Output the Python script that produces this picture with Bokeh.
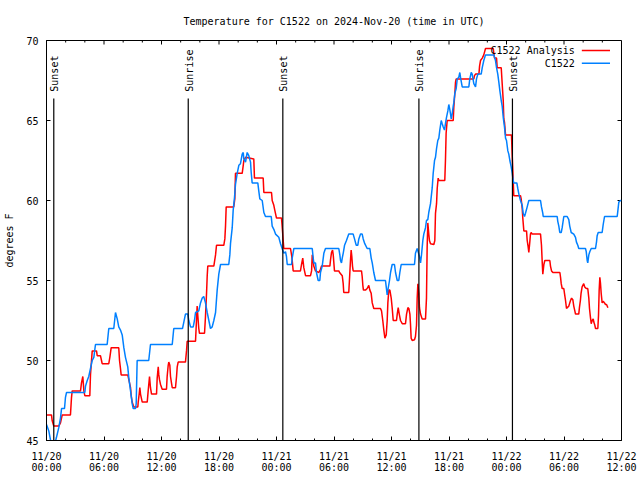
import math
from bokeh.plotting import figure
from bokeh.models import Range1d, FixedTicker
from bokeh.embed import file_html
from bokeh.resources import INLINE
from bokeh.core.properties import value

# ---- data (hours after 2024-11-20 00:00 UTC, degrees F) ----
analysis_hours = [
    0.00, 0.52, 0.59, 0.76, 1.28, 1.46, 1.64, 2.50, 2.61, 2.68, 3.55, 3.65, 3.79, 3.90, 4.00, 4.52,
    4.59, 4.77, 5.22, 5.29, 5.63, 5.74, 5.81, 6.50, 6.61, 6.75, 7.54, 7.62, 7.72, 7.79, 8.48, 8.59,
    8.77, 8.84, 8.94, 9.11, 9.53, 9.57, 9.67, 9.74, 9.81, 9.99, 10.51, 10.61, 10.75, 10.85, 10.96, 11.48,
    11.55, 11.66, 11.72, 11.79, 11.90, 12.07, 12.52, 12.59, 12.70, 12.76, 12.87, 12.94, 13.04, 13.12, 13.46, 13.57,
    13.64, 13.74, 14.50, 14.61, 14.68, 15.55, 15.65, 15.72, 15.79, 15.89, 15.96, 16.49, 16.59, 16.70, 16.77, 16.83,
    17.46, 17.64, 17.74, 18.50, 18.61, 18.68, 18.75, 19.54, 19.65, 19.72, 20.42, 20.53, 20.59, 20.77, 21.63, 21.70,
    22.61, 22.68, 23.48, 23.55, 23.72, 23.82, 24.00, 24.52, 24.59, 24.70, 24.76, 25.46, 25.57, 25.64, 25.74, 26.50,
    26.61, 26.74, 26.85, 27.03, 27.55, 27.66, 27.73, 27.83, 27.89, 28.07, 28.42, 28.59, 28.70, 29.57, 29.64, 29.74,
    29.85, 29.92, 30.05, 30.50, 30.58, 30.86, 30.96, 31.02, 31.54, 31.61, 31.72, 31.79, 31.86, 31.93, 32.00, 32.87,
    32.94, 33.01, 33.07, 33.28, 33.46, 33.63, 33.74, 33.88, 33.99, 34.15, 34.85, 34.96, 35.09, 35.20, 35.31, 35.45,
    35.55, 35.62, 35.72, 35.83, 35.97, 36.07, 36.18, 36.52, 36.60, 36.70, 36.81, 36.94, 37.12, 37.46, 37.57, 37.71,
    37.81, 37.92, 37.98, 38.05, 38.16, 38.40, 38.50, 38.61, 38.68, 38.75, 38.85, 38.92, 39.03, 39.20, 39.55, 39.65,
    39.72, 39.79, 39.89, 39.96, 40.07, 40.42, 40.52, 40.59, 40.70, 40.77, 40.87, 40.94, 41.56, 41.63, 41.70, 41.81,
    42.44, 42.50, 42.61, 42.68, 42.75, 44.59, 44.66, 44.77, 45.12, 45.19, 45.29, 45.47, 45.63, 45.81, 46.62, 46.68,
    46.75, 46.96, 47.03, 47.45, 47.55, 47.66, 47.72, 47.79, 47.90, 48.52, 48.59, 48.70, 48.76, 49.46, 49.53, 49.64,
    49.70, 49.81, 50.09, 50.16, 50.26, 50.33, 50.43, 50.50, 50.57, 50.68, 51.55, 51.65, 51.73, 51.79, 51.90, 52.00,
    52.52, 52.59, 52.70, 52.84, 53.57, 53.64, 53.71, 53.81, 53.98, 54.05, 54.16, 54.26, 54.33, 54.50, 54.68, 54.79,
    54.92, 55.02, 55.13, 55.20, 55.54, 55.61, 55.71, 55.78, 55.89, 56.06, 56.16, 56.32, 56.48, 56.59, 56.66, 56.76,
    56.84, 56.94, 57.05, 57.11, 57.22, 57.29, 57.53, 57.60, 57.67, 57.74, 57.81, 57.88, 57.98, 58.09, 58.23, 58.33,
    58.44, 58.58,
]
analysis_temps = [
    46.6, 46.6, 46.25, 45.9, 45.9, 46.1, 46.6, 46.6, 47.7, 48.1, 48.1, 48.6, 49.0, 48.1, 47.8, 47.8,
    49.1, 50.6, 50.6, 50.3, 50.3, 50.0, 49.8, 49.8, 50.2, 50.8, 50.8, 50.0, 49.5, 49.1, 49.1, 48.8,
    48.3, 47.8, 47.4, 47.1, 47.1, 47.4, 47.9, 48.3, 47.9, 47.4, 47.4, 48.1, 49.0, 48.3, 47.9, 47.9,
    48.9, 49.6, 49.1, 48.8, 48.5, 48.2, 48.2, 49.0, 49.7, 49.9, 49.7, 49.0, 48.6, 48.3, 48.3, 49.0,
    49.6, 49.9, 49.9, 50.6, 51.2, 51.2, 52.5, 53.4, 52.8, 52.0, 51.7, 51.7, 52.75, 54.2, 55.3, 55.9,
    55.9, 56.6, 57.2, 57.2, 57.6, 58.4, 59.6, 59.6, 60.1, 61.7, 61.7, 62.2, 62.5, 62.7, 62.6, 61.4,
    61.4, 60.5, 60.5, 60.0, 59.7, 59.4, 58.9, 58.9, 58.4, 57.5, 57.0, 57.0, 56.6, 56.25, 55.6, 55.6,
    56.0, 56.4, 55.8, 55.3, 55.3, 55.6, 56.6, 56.3, 55.9, 55.6, 55.5, 55.7, 55.9, 55.9, 56.3, 56.75,
    56.9, 56.6, 55.6, 55.6, 55.5, 55.3, 54.8, 54.25, 54.25, 55.0, 56.25, 56.9, 56.5, 55.9, 55.6, 55.6,
    55.25, 54.7, 54.4, 54.4, 54.5, 54.7, 54.4, 54.2, 53.6, 53.25, 53.25, 53.1, 52.5, 51.9, 51.4, 51.6,
    52.5, 53.6, 54.4, 54.4, 53.9, 53.3, 52.5, 52.5, 52.9, 53.3, 52.9, 52.5, 52.3, 52.3, 52.9, 53.3,
    53.25, 52.9, 52.3, 51.4, 51.25, 51.3, 51.5, 52.2, 53.9, 54.8, 54.2, 53.3, 52.9, 52.6, 52.6, 53.9,
    57.1, 58.6, 57.9, 57.5, 57.3, 57.25, 57.5, 59.2, 59.8, 60.75, 61.4, 61.25, 61.25, 62.5, 64.2, 65.0,
    65.0, 65.8, 66.7, 67.4, 67.6, 67.6, 67.8, 67.9, 67.9, 68.4, 68.75, 68.9, 69.1, 69.5, 69.5, 69.2,
    68.9, 68.9, 68.3, 68.3, 67.3, 66.25, 65.1, 64.9, 64.1, 64.1, 62.9, 61.25, 60.3, 60.3, 60.1, 59.5,
    58.9, 58.1, 58.1, 57.5, 57.1, 56.75, 57.4, 57.9, 58.0, 57.9, 57.9, 57.2, 56.1, 55.4, 56.0, 56.25,
    56.25, 55.9, 55.6, 55.5, 55.5, 55.2, 54.8, 54.5, 54.5, 54.2, 53.75, 53.25, 53.3, 53.4, 53.75, 53.9,
    53.8, 53.4, 53.1, 52.9, 52.9, 53.3, 53.75, 54.2, 54.6, 54.8, 54.6, 54.5, 54.5, 53.9, 53.25, 52.7,
    52.3, 52.5, 52.6, 52.4, 52.2, 52.0, 52.0, 52.8, 54.4, 55.2, 54.8, 54.2, 53.6, 53.7, 53.6, 53.5,
    53.5, 53.3,
]

station_hours = [
    0.00, 0.24, 0.52, 0.83, 1.04, 1.28, 1.46, 1.57, 1.88, 1.98, 2.09, 4.00, 4.07, 4.25, 4.41, 4.59,
    4.77, 4.94, 5.11, 6.33, 6.50, 7.02, 7.20, 7.38, 7.54, 7.72, 7.90, 8.07, 8.24, 8.48, 8.59, 8.77,
    8.94, 9.05, 9.29, 9.36, 9.46, 10.67, 10.85, 13.12, 13.28, 14.19, 14.33, 14.50, 14.74, 14.85, 15.03, 15.31,
    15.44, 15.55, 15.89, 16.07, 16.25, 16.41, 16.59, 16.77, 16.94, 17.11, 17.29, 17.46, 17.64, 17.81, 17.98, 18.16,
    19.02, 19.13, 19.20, 19.38, 19.48, 19.62, 19.72, 19.90, 20.07, 20.24, 20.42, 20.53, 20.59, 20.77, 20.94, 21.11,
    21.29, 21.36, 21.46, 22.05, 22.15, 22.26, 22.51, 22.68, 22.85, 23.45, 23.55, 23.72, 23.90, 24.24, 24.42, 24.59,
    24.76, 24.94, 25.04, 25.12, 25.57, 25.64, 25.81, 27.73, 27.83, 27.89, 28.07, 28.17, 28.35, 28.52, 28.59, 28.77,
    28.94, 29.11, 30.50, 30.61, 30.68, 30.78, 30.86, 30.96, 31.10, 31.30, 31.54, 32.00, 32.14, 32.32, 32.48, 32.59,
    32.77, 32.94, 33.05, 33.21, 33.46, 33.74, 33.88, 33.99, 34.15, 34.33, 35.37, 35.45, 35.55, 35.65, 35.79, 35.90,
    36.07, 36.31, 36.42, 36.60, 36.76, 36.87, 37.01, 38.40, 38.50, 38.68, 38.78, 38.92, 39.03, 39.13, 39.27, 39.37,
    39.55, 39.65, 39.79, 39.89, 40.07, 40.25, 40.35, 40.49, 40.59, 40.70, 40.83, 40.94, 41.04, 41.19, 41.29, 41.40,
    41.53, 41.63, 41.74, 41.88, 41.98, 42.08, 42.16, 42.23, 42.33, 42.44, 42.50, 42.61, 42.75, 42.86, 43.02, 43.13,
    43.20, 43.38, 44.07, 44.17, 44.32, 44.42, 44.59, 44.77, 44.87, 45.01, 45.36, 45.47, 45.63, 45.81, 46.68, 46.85,
    46.96, 47.09, 47.20, 47.30, 47.45, 47.55, 47.66, 47.79, 47.90, 48.00, 48.14, 48.24, 48.35, 48.49, 48.60, 48.70,
    48.76, 49.08, 49.18, 49.29, 49.46, 49.64, 49.74, 49.88, 49.98, 50.16, 50.33, 51.55, 51.65, 51.79, 51.83, 53.29,
    53.35, 53.46, 53.56, 53.71, 53.81, 53.98, 54.33, 54.50, 54.60, 54.75, 55.02, 55.20, 55.30, 55.44, 55.54, 56.24,
    56.32, 56.42, 56.48, 56.59, 56.69, 56.84, 57.29, 57.39, 57.46, 57.57, 57.98, 58.09, 58.23, 59.55, 59.61, 59.72,
    59.90, 60.00,
]
station_temps = [
    46.0, 45.6, 44.7, 44.7, 45.2, 45.8, 46.4, 47.0, 47.0, 47.7, 48.0, 48.0, 48.4, 48.75, 49.0, 49.5,
    50.0, 50.2, 51.0, 51.0, 52.0, 52.0, 53.0, 52.6, 52.1, 51.9, 51.6, 50.8, 50.2, 49.6, 48.9, 48.1,
    47.3, 47.0, 47.0, 47.3, 50.0, 50.0, 51.0, 51.0, 52.0, 52.0, 52.4, 52.9, 52.9, 52.5, 52.1, 52.1,
    52.5, 53.0, 53.1, 53.6, 53.9, 54.0, 53.6, 53.0, 52.5, 52.0, 52.1, 52.5, 53.0, 54.4, 55.4, 56.0,
    56.0, 56.6, 57.3, 58.3, 59.4, 60.2, 61.0, 61.7, 62.2, 62.3, 62.9, 63.0, 62.6, 62.4, 63.0, 62.8,
    62.4, 61.75, 61.1, 61.1, 60.6, 60.1, 60.0, 59.25, 59.0, 59.0, 58.4, 58.2, 57.9, 57.7, 57.3, 57.0,
    56.7, 56.8, 56.5, 56.0, 56.0, 56.4, 57.0, 57.0, 56.4, 56.1, 56.1, 55.5, 55.0, 55.0, 55.5, 55.9,
    56.7, 57.0, 57.0, 56.6, 56.25, 56.1, 56.4, 56.7, 57.2, 57.5, 57.9, 57.9, 57.6, 57.2, 57.2, 57.6,
    57.9, 57.9, 57.6, 57.3, 57.0, 57.0, 56.4, 56.1, 55.5, 55.0, 55.0, 54.6, 54.1, 54.5, 55.0, 55.5,
    56.0, 56.0, 55.5, 55.0, 55.0, 55.5, 56.0, 56.0, 56.7, 57.0, 56.8, 56.5, 56.1, 56.6, 57.5, 57.9,
    58.3, 58.75, 58.8, 59.25, 59.8, 60.8, 61.7, 62.5, 62.7, 63.25, 63.75, 63.9, 64.4, 65.0, 64.8, 64.6,
    64.4, 64.8, 65.2, 65.6, 66.0, 65.7, 65.4, 65.1, 65.4, 65.9, 66.1, 66.7, 67.0, 67.6, 67.7, 68.0,
    67.7, 67.1, 67.1, 67.6, 68.0, 67.9, 67.3, 67.1, 67.6, 67.9, 67.9, 68.3, 68.75, 69.1, 69.1, 68.75,
    68.3, 67.9, 67.4, 66.9, 66.25, 65.9, 65.2, 64.6, 63.9, 63.75, 63.1, 62.9, 62.5, 62.1, 61.7, 61.25,
    61.1, 61.1, 60.75, 60.4, 60.0, 59.7, 59.2, 59.0, 59.2, 59.6, 60.0, 60.0, 59.6, 59.2, 59.0, 59.0,
    58.7, 58.4, 58.0, 58.0, 58.3, 59.0, 59.0, 58.8, 58.4, 58.0, 57.9, 57.7, 57.4, 57.2, 57.0, 57.0,
    56.8, 56.25, 56.1, 56.6, 56.8, 57.0, 57.0, 57.4, 57.8, 58.0, 58.0, 58.5, 59.0, 59.0, 59.3, 59.9,
    60.0, 60.0,
]

sun_event_hours = [0.76, 14.79, 24.66, 38.86, 48.62]
sun_event_names = ["Sunset", "Sunrise", "Sunset", "Sunrise", "Sunset"]

x_tick_hours = [0, 6, 12, 18, 24, 30, 36, 42, 48, 54, 60]
x_tick_labels = ["11/20\n00:00", "11/20\n06:00", "11/20\n12:00", "11/20\n18:00",
                 "11/21\n00:00", "11/21\n06:00", "11/21\n12:00", "11/21\n18:00",
                 "11/22\n00:00", "11/22\n06:00", "11/22\n12:00"]
x_minor_hours = [h for h in range(0, 61, 2) if h % 6 != 0]
y_ticks = [45, 50, 55, 60, 65, 70]

series_names = ["C1522 Analysis", "C1522"]
series_colors = ["#ff0000", "#0080ff"]

X0, X1 = 0, 60
Y0, Y1 = 45, 70
FONT = "DejaVu Sans Mono"


def fx(f):
    return X0 + f * (X1 - X0)


def fy(f):
    return Y0 + f * (Y1 - Y0)


p = figure(frame_width=575, frame_height=400,
           x_range=Range1d(X0, X1), y_range=Range1d(Y0, Y1),
           output_backend="svg", toolbar_location=None,
           min_border_left=46, min_border_right=19, min_border_top=40, min_border_bottom=40)

p.title.text = "Temperature for C1522 on 2024-Nov-20 (time in UTC)"
p.title.align = "center"
p.title.text_font = FONT
p.title.text_font_size = "10px"
p.title.text_font_style = "normal"
p.title.text_color = "black"
p.title.standoff = 27

p.xgrid.visible = False
p.ygrid.visible = False
p.outline_line_color = "black"
p.outline_line_width = 1
p.background_fill_color = "white"
p.border_fill_color = "white"


def style_axis(ax):
    ax.axis_line_color = "black"
    ax.major_tick_line_color = "black"
    ax.minor_tick_line_color = "black"
    ax.major_tick_in = 4
    ax.major_tick_out = 0
    ax.minor_tick_in = 2
    ax.minor_tick_out = 0
    ax.major_label_text_font = FONT
    ax.major_label_text_font_size = "10px"
    ax.major_label_text_color = "black"


xa = p.xaxis[0]
xa.ticker = FixedTicker(ticks=x_tick_hours, minor_ticks=x_minor_hours)
xa.major_label_overrides = {h: s for h, s in zip(x_tick_hours, x_tick_labels)}
style_axis(xa)
xa.major_label_standoff = 10
xa.major_label_text_line_height = 1.05

ya = p.yaxis[0]
ya.ticker = FixedTicker(ticks=y_ticks, minor_ticks=[])
style_axis(ya)
ya.major_label_standoff = 8
ya.axis_label = "degrees F"
ya.axis_label_text_font = FONT
ya.axis_label_text_font_size = "10px"
ya.axis_label_text_font_style = "normal"
ya.axis_label_text_color = "black"
ya.axis_label_standoff = 8

# mirrored inward ticks on the top and right edges (gnuplot style)
p.ray(x=x_tick_hours, y=[Y1] * len(x_tick_hours), length=4, length_units="screen",
      angle=-math.pi / 2, line_color="black", line_width=1)
p.ray(x=x_minor_hours, y=[Y1] * len(x_minor_hours), length=2, length_units="screen",
      angle=-math.pi / 2, line_color="black", line_width=1)
p.ray(x=[X1] * len(y_ticks), y=y_ticks, length=4, length_units="screen",
      angle=math.pi, line_color="black", line_width=1)

# data lines
p.line(analysis_hours, analysis_temps, line_color=series_colors[0], line_width=1.5)
p.line(station_hours, station_temps, line_color=series_colors[1], line_width=1.5)

# sunrise / sunset markers
p.segment(x0=sun_event_hours, y0=[Y0] * len(sun_event_hours),
          x1=sun_event_hours, y1=[fy(0.855)] * len(sun_event_hours),
          line_color="black", line_width=1.2)
p.text(x=sun_event_hours, y=[fy(0.872)] * len(sun_event_hours), text=sun_event_names,
       angle=math.pi / 2, text_align="left", text_baseline="middle",
       text_font=value(FONT), text_font_size="10px", text_color="black", x_offset=1)

# legend (gnuplot style: label then sample line)
rows = [0.975, 0.943]
for name, color, r in zip(series_names, series_colors, rows):
    p.text(x=[fx(0.9188)], y=[fy(r)], text=[name], text_align="right", text_baseline="middle",
           text_font=value(FONT), text_font_size="10px", text_color="black")
    p.segment(x0=[fx(0.931)], y0=[fy(r)], x1=[fx(0.980)], y1=[fy(r)],
              line_color=color, line_width=1.5)

open("out.html", "w").write(file_html(p, INLINE))
